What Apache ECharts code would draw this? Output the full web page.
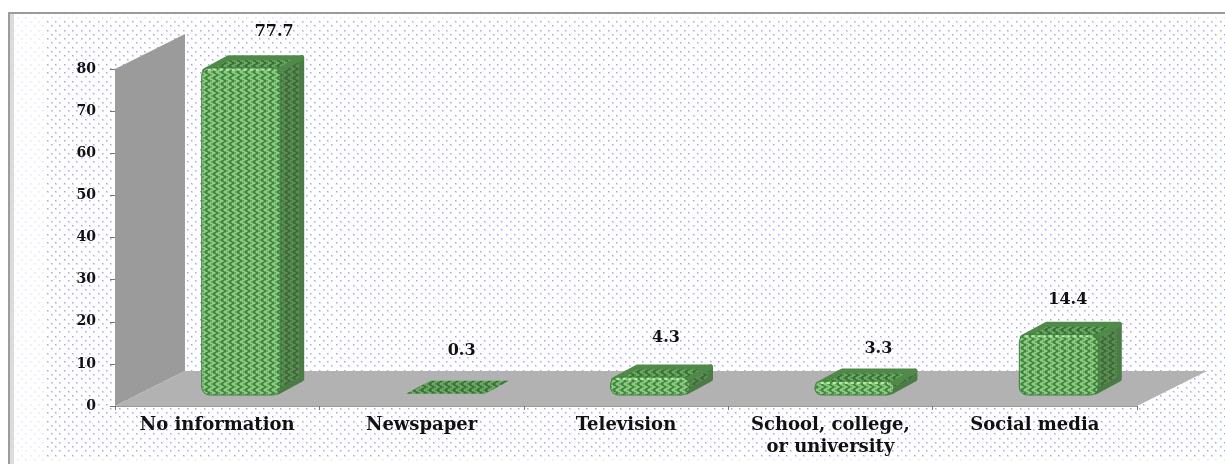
<!DOCTYPE html>
<html>
<head>
<meta charset="utf-8">
<title>Sources of information</title>
<style>
html, body { margin: 0; padding: 0; background: #fff; }
#chart { width: 1225px; height: 464px; }
</style>
<script src="https://cdn.jsdelivr.net/npm/echarts@6/dist/echarts.min.js"></script>
</head>
<body>
<div id="chart"></div>
<script>
var categories = ['No information', 'Newspaper', 'Television', 'School, college,\nor university', 'Social media'];
var shares = [77.7, 0.3, 4.3, 3.3, 14.4];
var labelNudge = [[21, 0], [4, -7], [4, -3], [12, 4], [-3, 2]]; // labels sit by hand in the original

var fontName = '"DejaVu Serif", "Liberation Serif", serif';

// small canvases used as repeating fills
function tile(w, h, draw) {
    var c = document.createElement('canvas');
    c.width = w;
    c.height = h;
    draw(c.getContext('2d'));
    return { image: c, repeat: 'repeat' };
}
function dots(soft, core) {
    return tile(17, 17, function (g) {
        [[0, 0], [8, 0], [4, 4], [13, 4], [0, 8], [8, 8], [4, 13], [13, 13]].forEach(function (p) {
            g.fillStyle = soft;
            g.fillRect(p[0], p[1], 2, 2);
            g.fillStyle = core;
            g.fillRect(p[0], p[1], 1, 1);
        });
    });
}
function zigzag(base, light, dark) {
    return tile(8, 6, function (g) {
        g.fillStyle = base;
        g.fillRect(0, 0, 8, 6);
        g.fillStyle = light;
        g.fillRect(0, 0, 3, 1); g.fillRect(2, 1, 3, 1); g.fillRect(4, 2, 3, 1);
        g.fillRect(4, 3, 3, 1); g.fillRect(2, 4, 3, 1); g.fillRect(0, 5, 3, 1);
        g.fillStyle = dark;
        g.fillRect(5, 0, 2, 1); g.fillRect(6, 1, 2, 1); g.fillRect(0, 2, 2, 1);
        g.fillRect(0, 3, 2, 1); g.fillRect(6, 4, 2, 1); g.fillRect(5, 5, 2, 1);
    });
}
var frontFill = zigzag('#62a65c', '#94c886', '#3a873d');
var topFill = zigzag('#4f8a49', '#6fa765', '#34703a');
var sideFill = zigzag('#4c7c45', '#5f8e55', '#3a6a38');

var depthX = 70, depthY = -35;   // depth of the floor and wall
var barX = 24, barY = -13;       // depth of a bar
var baseY = -11;                 // how far the bar stands back from the axis
var barWidth = 79;

function renderRoom(params, api) {
    var band = api.size([1, 0])[0];
    var o = api.coord([0, 0]);
    var left = o[0] - band / 2;
    var right = api.coord([categories.length - 1, 0])[0] + band / 2;
    var bottom = o[1];
    var top = api.coord([0, 80])[1];
    return {
        type: 'group',
        children: [
            { type: 'polygon', shape: { points: [[left, bottom], [left, top], [left + depthX, top + depthY], [left + depthX, bottom + depthY]] }, style: { fill: '#9b9b9b' } },
            { type: 'polygon', shape: { points: [[left, bottom], [left + depthX, bottom + depthY], [right + depthX, bottom + depthY], [right, bottom]] }, style: { fill: '#b2b2b2' } }
        ]
    };
}

function renderBar(params, api) {
    var i = api.value(0);
    var v = api.value(1);
    var base = api.coord([i, 0]);
    var tip = api.coord([i, v]);
    var x0 = base[0] - barWidth / 2 + barX;
    var x1 = x0 + barWidth;
    var yb = base[1] + baseY;
    var yt = tip[1] + baseY;
    var h = yb - yt;
    var flat = h <= 4;
    var sw = flat ? 0 : 5;      // round stroke gives the soft corners
    var ins = flat ? 0 : 3;     // keep the stroke inside the outline
    var nudge = labelNudge[i];
    var children = [];
    if (!flat) {
        children.push({ type: 'polygon',
            shape: { points: [[x1 - ins, yt + ins], [x1 + barX - ins, yt + barY + ins], [x1 + barX - ins, yb + barY - ins], [x1 - ins, yb - ins]] },
            style: { fill: sideFill, stroke: '#4c7c45', lineWidth: sw, lineJoin: 'round' } });
    }
    children.push({ type: 'polygon',
        shape: { points: [[x0 + ins, yt + ins], [x0 + barX + ins, yt + barY + ins], [x1 + barX - ins, yt + barY + ins], [x1 - ins, yt + ins]] },
        style: { fill: topFill, stroke: flat ? null : '#4f8a49', lineWidth: sw, lineJoin: 'round' } });
    if (!flat) {
        children.push({ type: 'rect', shape: { x: x0, y: yt, width: barWidth, height: h, r: Math.min(8, h / 2) },
            style: { fill: frontFill, stroke: '#3f7f3f', lineWidth: 1 } });
        children.push({ type: 'line', shape: { x1: x0 + 6, y1: yt + 2, x2: x1 - 6, y2: yt + 2 },
            style: { stroke: '#b5ec9c', lineWidth: 2, lineDash: [3, 3] } });
    }
    children.push({ type: 'text', style: {
        text: String(v),
        x: (x0 + x1 + barX) / 2 + nudge[0],
        y: yt + barY - 23 + nudge[1],
        align: 'center',
        verticalAlign: 'middle',
        fill: '#111111',
        font: 'bold 16px ' + fontName
    } });
    return { type: 'group', children: children };
}

var myChart = echarts.init(document.getElementById('chart'));

var option = {
    animation: false,
    backgroundColor: '#ffffff',
    graphic: [
        { type: 'rect', z: -10, shape: { x: 12, y: 14, width: 1213, height: 447 }, style: { fill: dots('#f1f3fb', '#e4e8f7') } },
        { type: 'rect', z: -9, shape: { x: 47, y: 20, width: 1178, height: 437 }, style: { fill: '#ffffff' } },
        { type: 'rect', z: -8, shape: { x: 47, y: 20, width: 1178, height: 437 }, style: { fill: dots('#dcdcf8', '#a0a0ec') } },
        { type: 'rect', z: -7, shape: { x: 8, y: 12, width: 1217, height: 2 }, style: { fill: '#9c9c9c' } },
        { type: 'rect', z: -7, shape: { x: 8, y: 12, width: 2, height: 452 }, style: { fill: '#9c9c9c' } },
        { type: 'rect', z: -7, shape: { x: 10, y: 14, width: 4, height: 450 }, style: { fill: '#dcdcdc' } }
    ],
    grid: { left: 115, top: 69, width: 1022, height: 337 },
    xAxis: {
        type: 'category',
        data: categories,
        axisLine: { lineStyle: { color: '#999999', width: 1 } },
        axisTick: { show: true, alignWithLabel: false, length: 4, lineStyle: { color: '#777777' } },
        axisLabel: {
            interval: 0,
            margin: 8,
            lineHeight: 22,
            color: '#111111',
            fontFamily: fontName,
            fontWeight: 'bold',
            fontSize: 18
        }
    },
    yAxis: {
        type: 'value',
        min: 0,
        max: 80,
        interval: 10,
        splitLine: { show: false },
        axisLine: { show: true, lineStyle: { color: '#999999', width: 1 } },
        axisTick: { show: true, length: 5, lineStyle: { color: '#777777' } },
        axisLabel: {
            margin: 19,
            color: '#111111',
            fontFamily: fontName,
            fontWeight: 'bold',
            fontSize: 14
        }
    },
    series: [
        {
            type: 'custom',
            name: 'room',
            silent: true,
            clip: false,
            z: 1,
            renderItem: renderRoom,
            data: [[0, 0]]
        },
        {
            type: 'custom',
            name: 'share',
            clip: false,
            z: 2,
            renderItem: renderBar,
            encode: { x: 0, y: 1 },
            data: shares.map(function (v, i) { return [i, v]; })
        }
    ]
};
myChart.setOption(option);
</script>
</body>
</html>
